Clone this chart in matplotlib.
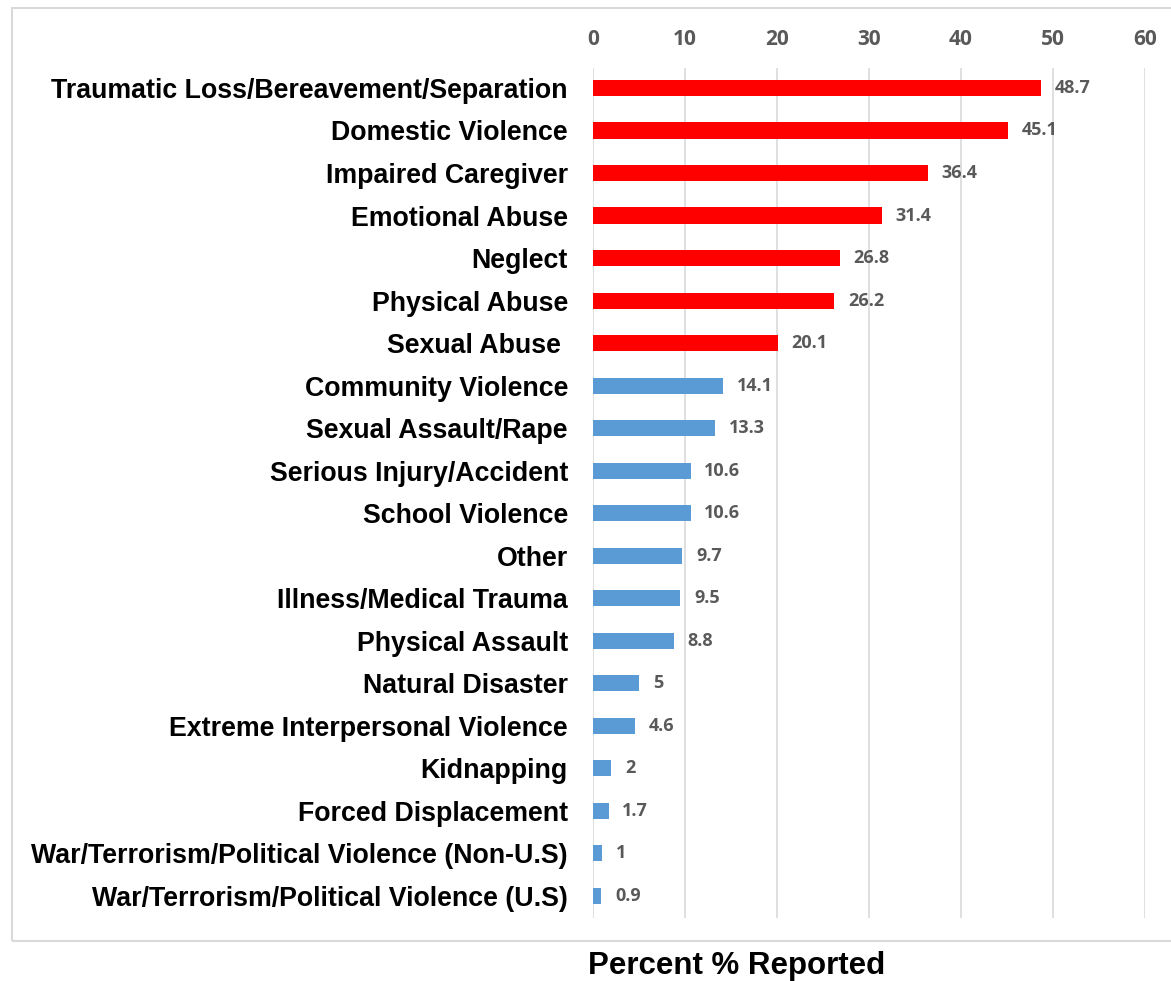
import matplotlib.pyplot as plt
from matplotlib.patches import Rectangle

categories = [
    "Traumatic Loss/Bereavement/Separation",
    "Domestic Violence",
    "Impaired Caregiver",
    "Emotional Abuse",
    "Neglect",
    "Physical Abuse",
    "Sexual Abuse ",
    "Community Violence",
    "Sexual Assault/Rape",
    "Serious Injury/Accident",
    "School Violence",
    "Other",
    "Illness/Medical Trauma",
    "Physical Assault",
    "Natural Disaster",
    "Extreme Interpersonal Violence",
    "Kidnapping",
    "Forced Displacement",
    "War/Terrorism/Political Violence (Non-U.S)",
    "War/Terrorism/Political Violence (U.S)",
]
values = [48.7, 45.1, 36.4, 31.4, 26.8, 26.2, 20.1, 14.1, 13.3, 10.6,
          10.6, 9.7, 9.5, 8.8, 5, 4.6, 2, 1.7, 1, 0.9]
value_labels = ["48.7", "45.1", "36.4", "31.4", "26.8", "26.2", "20.1", "14.1",
                "13.3", "10.6", "10.6", "9.7", "9.5", "8.8", "5", "4.6", "2",
                "1.7", "1", "0.9"]
n_red = 7

RED = "#ff0000"
BLUE = "#5b9bd5"
GRAY = "#595959"

fig = plt.figure(figsize=(11.71, 9.81), dpi=100)
ax = fig.add_axes([0.5064, 0.0642, 0.4714, 0.8665])

colors = [RED if i < n_red else BLUE for i in range(len(values))]
y = list(range(len(values)))
ax.barh(y, values, height=0.38, color=colors, zorder=3)

for yi, v, lab in zip(y, values, value_labels):
    ax.text(v + 1.5, yi, lab, va="center", ha="left", fontsize=13,
            fontweight="bold", color=GRAY, family="Open Sans")

ax.set_xlim(0, 60)
ax.set_ylim(len(values) - 0.48, -0.47)
ax.set_xticks(range(0, 61, 10))
ax.xaxis.tick_top()
ax.tick_params(axis="x", length=0, pad=13, labelsize=15, labelcolor=GRAY)
for t in ax.get_xticklabels():
    t.set_fontweight("bold")
    t.set_family("Open Sans")
ax.set_yticks(y)
ax.set_yticklabels(categories, fontsize=19.3, fontweight="bold",
                   family="Liberation Sans")
ax.tick_params(axis="y", length=0, pad=18)
ax.grid(axis="x", color="#d9d9d9", linewidth=1.2, zorder=0)
for s in ax.spines.values():
    s.set_visible(False)

fig.patches.append(Rectangle((12 / 1171, 1 - 941 / 981), 1.2, (941 - 8) / 981,
                             transform=fig.transFigure, fill=False,
                             edgecolor="#d9d9d9", linewidth=1.5))

fig.text(737 / 1171, 1 - 966 / 981, "Percent % Reported", ha="center",
         va="center", fontsize=22.5, fontweight="bold", family="Liberation Sans")

fig.savefig("out.png", dpi=100)
